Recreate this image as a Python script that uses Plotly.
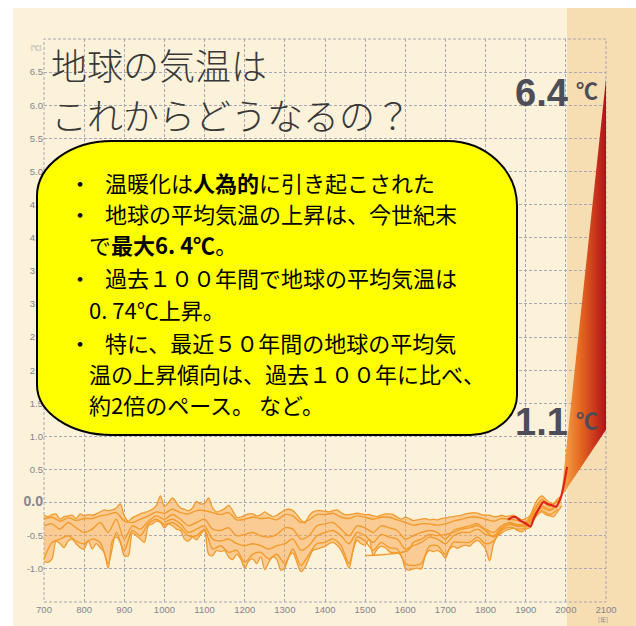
import plotly.graph_objects as go

# ---------------- data ----------------
env_years = list(range(700, 1991, 10))
upper_env = [
    -0.19, -0.21, -0.18, -0.17, -0.25, -0.21, -0.20, -0.19, -0.24, -0.17,
    -0.20, -0.18, -0.19, -0.17, -0.14, -0.11, -0.12, -0.11, -0.08, -0.02,
    -0.20, -0.28, -0.23, -0.20, -0.17, -0.15, -0.13, -0.10, -0.04, 0.10,
    -0.06, 0.00, 0.07, 0.00, -0.08, -0.10, -0.12, -0.08, 0.02, -0.02,
    -0.01, 0.07, -0.08, -0.14, -0.12, -0.09, -0.04, -0.12, -0.22, -0.22,
    -0.19, -0.17, -0.17, -0.20, -0.18, -0.14, -0.18, -0.21, -0.19, -0.15,
    -0.11, -0.10, -0.12, -0.18, -0.26, -0.31, -0.20, -0.14, -0.12, -0.12,
    -0.13, -0.14, -0.12, -0.11, -0.15, -0.18, -0.18, -0.17, -0.16, -0.17,
    -0.18, -0.18, -0.20, -0.21, -0.19, -0.17, -0.17, -0.18, -0.22, -0.25,
    -0.22, -0.24, -0.27, -0.26, -0.25, -0.24, -0.26, -0.25, -0.26, -0.24,
    -0.23, -0.22, -0.21, -0.20, -0.19, -0.17, -0.16, -0.15, -0.16, -0.18,
    -0.19, -0.19, -0.21, -0.21, -0.19, -0.21, -0.20, -0.19, -0.23, -0.26,
    -0.24, -0.20, -0.07, 0.05, 0.10, 0.05, 0.00, -0.01, 0.06, 0.10,
]
lower_env = [
    -0.89, -0.90, -0.85, -0.58, -0.62, -0.68, -0.58, -0.55, -0.62, -0.68,
    -0.70, -0.57, -0.70, -0.62, -0.68, -0.75, -0.99, -0.58, -0.52, -0.60,
    -0.80, -0.80, -0.46, -0.50, -0.55, -0.60, -0.35, -0.32, -0.28, -0.30,
    -0.38, -0.32, -0.35, -0.40, -0.42, -0.55, -0.58, -0.52, -0.56, -0.48,
    -0.42, -0.78, -0.80, -0.72, -0.74, -0.72, -0.82, -0.86, -0.78, -0.85,
    -0.99, -0.88, -0.85, -0.92, -0.82, -1.01, -0.90, -0.82, -0.86, -1.02,
    -0.98, -0.82, -0.76, -0.90, -1.04, -0.98, -0.84, -0.72, -0.70, -0.68,
    -0.66, -0.62, -0.60, -0.64, -0.72, -0.85, -0.99, -0.72, -0.57, -0.62,
    -0.64, -0.55, -0.80, -0.70, -0.66, -0.68, -0.74, -0.76, -0.76, -0.80,
    -0.99, -1.02, -1.00, -0.99, -1.00, -0.80, -0.72, -0.74, -0.72, -0.76,
    -0.84, -0.70, -0.66, -0.69, -0.66, -0.64, -0.66, -0.60, -0.57, -0.62,
    -0.70, -0.88, -0.62, -0.50, -0.46, -0.42, -0.40, -0.39, -0.42, -0.44,
    -0.40, -0.38, -0.26, -0.18, -0.14, -0.18, -0.20, -0.21, -0.13, -0.05,
]

recon_years = list(range(700, 1981, 20))
recon_a = [
    -0.25, -0.22, -0.28, -0.23, -0.27, -0.24, -0.24, -0.20, -0.18, -0.15,
    -0.28, -0.30, -0.25, -0.20, -0.14, -0.16, -0.10, -0.15, -0.17, -0.12,
    -0.12, -0.15, -0.18, -0.15, -0.26, -0.25, -0.22, -0.24, -0.23, -0.26,
    -0.18, -0.20, -0.30, -0.26, -0.18, -0.18, -0.16, -0.22, -0.24, -0.20,
    -0.22, -0.25, -0.22, -0.22, -0.26, -0.30, -0.34, -0.32, -0.32, -0.34,
    -0.32, -0.28, -0.25, -0.22, -0.22, -0.25, -0.28, -0.24, -0.25, -0.27,
    -0.30, -0.12, 0.05, -0.04, 0.02,
]
recon_b = [
    -0.35, -0.32, -0.40, -0.30, -0.38, -0.45, -0.40, -0.30, -0.45, -0.25,
    -0.55, -0.35, -0.40, -0.28, -0.20, -0.25, -0.18, -0.25, -0.35, -0.30,
    -0.25, -0.40, -0.42, -0.38, -0.50, -0.48, -0.45, -0.50, -0.52, -0.48,
    -0.38, -0.40, -0.55, -0.50, -0.35, -0.32, -0.30, -0.40, -0.50, -0.35,
    -0.38, -0.45, -0.35, -0.38, -0.42, -0.55, -0.50, -0.45, -0.42, -0.45,
    -0.55, -0.42, -0.38, -0.35, -0.32, -0.40, -0.45, -0.35, -0.30, -0.33,
    -0.32, -0.18, -0.05, -0.10, -0.05,
]
recon_c = [
    -0.85, -0.60, -0.55, -0.50, -0.58, -0.62, -0.55, -0.60, -0.92, -0.45,
    -0.72, -0.42, -0.50, -0.32, -0.25, -0.33, -0.30, -0.38, -0.50, -0.50,
    -0.40, -0.70, -0.65, -0.75, -0.72, -0.90, -0.78, -0.75, -0.85, -0.78,
    -0.92, -0.70, -0.95, -0.78, -0.62, -0.60, -0.55, -0.65, -0.92, -0.52,
    -0.58, -0.72, -0.60, -0.68, -0.70, -0.92, -0.95, -0.92, -0.66, -0.65,
    -0.78, -0.60, -0.60, -0.60, -0.52, -0.62, -0.58, -0.42, -0.37, -0.40,
    -0.38, -0.24, -0.12, -0.18, -0.10,
]
recon_d_years = list(range(1000, 1981, 20))
recon_d = [
    -0.30, -0.25, -0.32, -0.45, -0.40, -0.35, -0.55, -0.58, -0.55, -0.62,
    -0.65, -0.62, -0.65, -0.70, -0.65, -0.62, -0.55, -0.72, -0.65, -0.50,
    -0.45, -0.42, -0.50, -0.62, -0.45, -0.50, -0.60, -0.48, -0.52, -0.55,
    -0.70, -0.65, -0.60, -0.52, -0.55, -0.62, -0.50, -0.45, -0.45, -0.40,
    -0.48, -0.50, -0.38, -0.33, -0.36, -0.35, -0.20, -0.08, -0.12, -0.04,
]
recon_e_years = [1500, 1607, 1620, 1640, 1660, 1680, 1700, 1720, 1740, 1760,
                 1780, 1800, 1820, 1840, 1860, 1880, 1900, 1920, 1940, 1960, 1980]
recon_e = [-0.80, -0.72, -0.60, -0.55, -0.48, -0.50, -0.48, -0.45, -0.40, -0.38,
           -0.35, -0.42, -0.52, -0.40, -0.32, -0.35, -0.33, -0.15, 0.02, -0.06, 0.04]

obs_years = [1856, 1866, 1876, 1886, 1896, 1906, 1912, 1920, 1930, 1944,
             1955, 1965, 1976, 1988, 1996, 2003]
obs_temp = [-0.26, -0.22, -0.22, -0.27, -0.30, -0.34, -0.36, -0.24, -0.12, 0.01,
            -0.02, -0.04, -0.06, 0.09, 0.30, 0.54]

proj_years = [1988, 2100, 2100, 1988]
proj_temp = [0.08, 6.4, 1.1, 0.08]

x_ticks = list(range(700, 2101, 100))
y_ticks = [-1.0, -0.5, 0.0, 0.5, 1.0, 1.5, 2.0, 2.5, 3.0, 3.5, 4.0, 4.5,
           5.0, 5.5, 6.0, 6.5]
y_ticktext = [("<span style='font-size:14px'><b>0.0</b></span>" if v == 0 else f"{v:.1f}")
              for v in y_ticks]

title_lines = ["地球の気温は", "これからどうなるの？"]
box_lines = [
    ("・", "温暖化は<b>人為的</b>に引き起こされた"),
    ("・", "地球の平均気温の上昇は、今世紀末"),
    ("", "で<b>最大6. 4℃</b>。"),
    ("・", "過去１００年間で地球の平均気温は"),
    ("", "0. 74℃上昇。"),
    ("・", "特に、最近５０年間の地球の平均気"),
    ("", "温の上昇傾向は、過去１００年に比べ、"),
    ("", "約2倍のペース。 など。"),
]

# ---------------- layout geometry ----------------
W, H = 636, 626
ML, MR, MT, MB = 44, 30, 39, 24
PW, PH = W - ML - MR, H - MT - MB


def fx(x):
    return (x - ML) / PW


def fy(y):
    return (H - MB - y) / PH


ORANGE = "#F39A2C"
BAND = "rgba(247,168,80,0.50)"
GRID = "#A8A8B8"
TXT = "#4D4D59"
CJK = "Noto Sans CJK JP"
NUM = "Liberation Sans, Arial, sans-serif"

fig = go.Figure()

# envelope band
fig.add_trace(go.Scatter(x=env_years, y=lower_env, mode="lines",
                         line=dict(color=ORANGE, width=1.3, shape="spline", smoothing=0.8),
                         hoverinfo="skip", showlegend=False))
fig.add_trace(go.Scatter(x=env_years, y=upper_env, mode="lines", fill="tonexty",
                         fillcolor=BAND,
                         line=dict(color=ORANGE, width=1.3, shape="spline", smoothing=0.8),
                         hoverinfo="skip", showlegend=False))
for xs, ys in [(recon_years, recon_a), (recon_years, recon_b), (recon_years, recon_c),
               (recon_d_years, recon_d), (recon_e_years, recon_e)]:
    fig.add_trace(go.Scatter(x=xs, y=ys, mode="lines",
                             line=dict(color=ORANGE, width=1.4, shape="spline", smoothing=0.8),
                             hoverinfo="skip", showlegend=False))

# projection wedge
fig.add_trace(go.Scatter(x=proj_years, y=proj_temp, mode="lines", fill="toself",
                         fillgradient=dict(type="horizontal",
                                           colorscale=[[0, "#F6AC4C"], [0.45, "#E3661E"],
                                                       [1, "#B3111A"]]),
                         line=dict(width=0), hoverinfo="skip", showlegend=False))

# observed
fig.add_trace(go.Scatter(x=obs_years, y=obs_temp, mode="lines",
                         line=dict(color="#E0221B", width=2.2, shape="spline", smoothing=0.7),
                         hoverinfo="skip", showlegend=False))

# ---------------- shapes ----------------
shapes = [
    dict(type="rect", xref="paper", yref="paper", x0=fx(13), x1=fx(W), y0=fy(H), y1=fy(8),
         fillcolor="#FCF1D9", line=dict(width=0), layer="below"),
    dict(type="rect", xref="paper", yref="paper", x0=fx(567), x1=fx(W), y0=fy(H), y1=fy(8),
         fillcolor="#F7DDB2", line=dict(width=0), layer="below"),
    dict(type="rect", xref="paper", yref="paper", x0=0, x1=1, y0=0, y1=1,
         line=dict(color=GRID, width=1, dash="3px,2px"), layer="below"),
]

# rounded callout box
L, R, T, B = 37, 517, 141, 435
k = 0.5523
tl, tr, br, bl = (75, 55), (70, 65), (47, 40), (75, 50)


def P(x, y):
    return f"{fx(x):.5f},{fy(y):.5f}"


path = (
    f"M{P(L + tl[0], T)} L{P(R - tr[0], T)} "
    f"C{P(R - tr[0] + k * tr[0], T)} {P(R, T + tr[1] - k * tr[1])} {P(R, T + tr[1])} "
    f"L{P(R, B - br[1])} "
    f"C{P(R, B - br[1] + k * br[1])} {P(R - br[0] + k * br[0], B)} {P(R - br[0], B)} "
    f"L{P(L + bl[0], B)} "
    f"C{P(L + bl[0] - k * bl[0], B)} {P(L, B - bl[1] + k * bl[1])} {P(L, B - bl[1])} "
    f"L{P(L, T + tl[1])} "
    f"C{P(L, T + tl[1] - k * tl[1])} {P(L + tl[0] - k * tl[0], T)} {P(L + tl[0], T)} Z"
)
shapes.append(dict(type="path", xref="paper", yref="paper", path=path,
                   fillcolor="#FFFF00", line=dict(color="black", width=2), layer="above"))

# ---------------- annotations ----------------
ann = []
for txt, yc in zip(title_lines, [64, 114]):
    ann.append(dict(xref="paper", yref="paper", x=fx(49), y=fy(yc), xanchor="left",
                    yanchor="middle", text=txt, showarrow=False,
                    font=dict(family=CJK, size=36, color="#383838", weight=300)))

line_y = [182, 213, 244, 277, 309, 342, 373, 404]
for (bullet, txt), yc in zip(box_lines, line_y):
    if bullet:
        ann.append(dict(xref="paper", yref="paper", x=fx(79.5), y=fy(yc), xanchor="center",
                        yanchor="middle", text=bullet, showarrow=False,
                        font=dict(family=CJK, size=22, color="black")))
        x0 = 103
    else:
        x0 = 87
    ann.append(dict(xref="paper", yref="paper", x=fx(x0), y=fy(yc), xanchor="left",
                    yanchor="middle", text=txt, showarrow=False,
                    font=dict(family=CJK, size=22, color="black")))

# projection labels
for val, yc, cy in [("6.4", 92.5, 88.5), ("1.1", 422.5, 419)]:
    ann.append(dict(xref="paper", yref="paper", x=fx(570), y=fy(yc), xanchor="right",
                    yanchor="middle", text=f"<b>{val}</b>", showarrow=False,
                    font=dict(family=NUM, size=38, color=TXT)))
    ann.append(dict(xref="paper", yref="paper", x=fx(574), y=fy(cy), xanchor="left",
                    yanchor="middle", text="<b>℃</b>", showarrow=False,
                    font=dict(family=CJK, size=22, color=TXT)))

ann.append(dict(xref="paper", yref="paper", x=fx(36), y=fy(47), xanchor="center",
                yanchor="middle", text="[℃]", showarrow=False,
                font=dict(family=CJK, size=6, color="#8A8A94")))
ann.append(dict(xref="paper", yref="paper", x=fx(603), y=fy(619), xanchor="center",
                yanchor="middle", text="[年]", showarrow=False,
                font=dict(family=CJK, size=6, color="#8A8A94")))

fig.update_layout(
    width=W, height=H, template="none",
    margin=dict(l=ML, r=MR, t=MT, b=MB, pad=0),
    paper_bgcolor="white", plot_bgcolor="rgba(0,0,0,0)",
    showlegend=False, shapes=shapes, annotations=ann,
    xaxis=dict(range=[700, 2100], tickvals=x_ticks, ticktext=[str(v) for v in x_ticks],
               showgrid=True, gridcolor=GRID, griddash="3px,2px", gridwidth=1,
               zeroline=False, showline=False, ticks="", automargin=False,
               tickfont=dict(family=NUM, size=9.5, color="#85858F")),
    yaxis=dict(range=[-1.5, 7.0], tickvals=y_ticks, ticktext=y_ticktext,
               showgrid=True, gridcolor=GRID, griddash="3px,2px", gridwidth=1,
               zeroline=False, showline=False, ticks="", automargin=False,
               tickfont=dict(family=NUM, size=9.5, color="#85858F")),
)

fig.write_html("out.html")
